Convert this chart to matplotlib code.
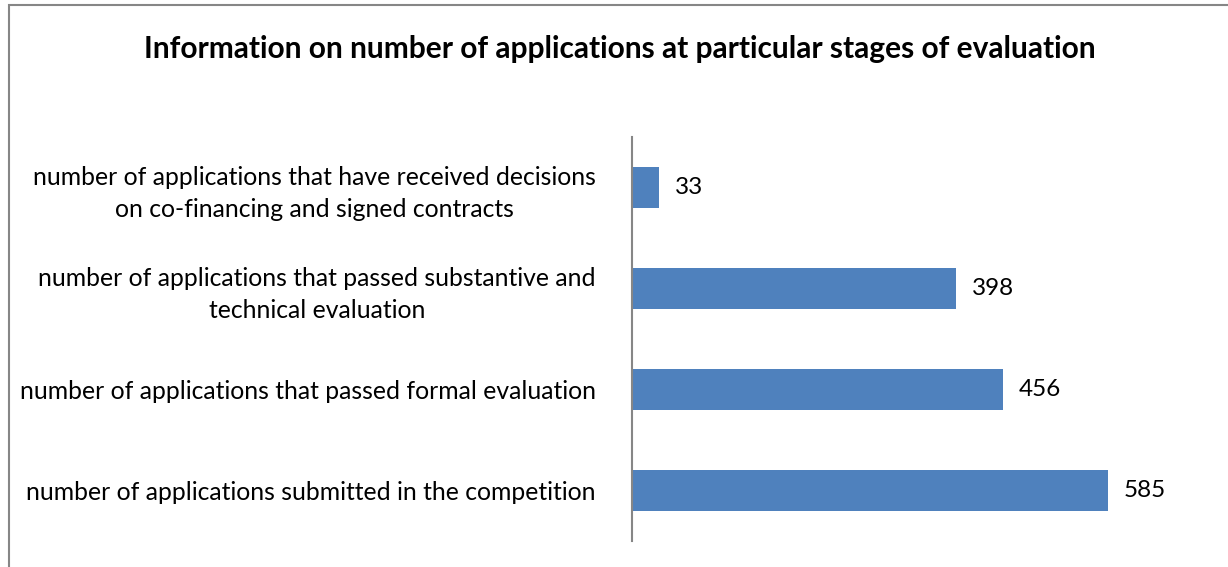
import matplotlib
matplotlib.use("Agg")
import matplotlib.pyplot as plt
from matplotlib.patches import Rectangle

plt.rcParams['font.family'] = ['Lato', 'DejaVu Sans']

stages = [
    "number of applications submitted in the competition",
    "number of applications that passed formal evaluation",
    "number of applications that passed substantive and\ntechnical evaluation",
    "number of applications that have received decisions\non co-financing and signed contracts",
]
counts = [585, 456, 398, 33]

BAR_COLOR = "#4F81BD"

fig = plt.figure(figsize=(12.28, 5.67), dpi=100)
ax = fig.add_axes([0.5147, 0.0459, 0.462, 0.7125])

y = list(range(len(stages)))
bars = ax.barh(y, counts, height=0.4, color=BAR_COLOR)
ax.set_ylim(-0.5, len(stages) - 0.5)
ax.set_xlim(0, 698)

for b, v in zip(bars, counts):
    ax.text(b.get_width() + 20, b.get_y() + b.get_height() / 2, str(v),
            va="center", ha="left", fontsize=17.5)

ax.set_yticks(y)
ax.set_yticklabels(stages, fontsize=17.8, multialignment="center", linespacing=1.45)
ax.tick_params(axis="y", length=0, pad=26)
ax.set_xticks([])
for side in ("top", "right", "bottom"):
    ax.spines[side].set_visible(False)
ax.spines["left"].set_color("#868686")
ax.spines["left"].set_linewidth(1.5)

fig.text(0.505, 0.913, "Information on number of applications at particular stages of evaluation",
         ha="center", va="center", fontsize=21.5, fontweight="bold")

# chart border
fig.patches.append(Rectangle((9 / 1228, -0.05), 1.05, 1 - 5 / 567 + 0.05,
                             transform=fig.transFigure, fill=False,
                             edgecolor="#868686", linewidth=1.5))

fig.savefig("out.png", dpi=100)
